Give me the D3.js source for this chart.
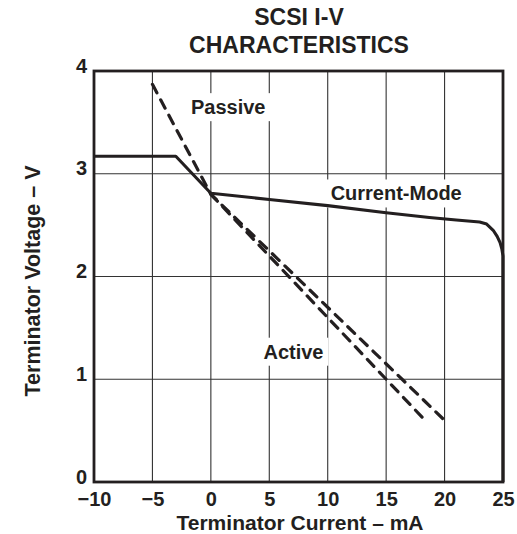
<!DOCTYPE html>
<html>
<head>
<meta charset="utf-8">
<script src="https://cdn.jsdelivr.net/npm/d3@7"></script>
<style>
  html, body { margin: 0; padding: 0; background: #fff; }
  svg { display: block; }
  text { font-family: "Liberation Sans", Arial, sans-serif; font-weight: bold; fill: #231f20; }
</style>
</head>
<body>
<svg id="chart" width="517" height="534"></svg>
<script>
// ---- data ----
const titleLines = ["SCSI I-V", "CHARACTERISTICS"];
const xTicks = [-10, -5, 0, 5, 10, 15, 20, 25];
const yTicks = [0, 1, 2, 3, 4];
const xLabel = "Terminator Current – mA";
const yLabel = "Terminator Voltage – V";

// Current-Mode terminator (solid)
const currentModeI = [-10, -3, 0, 5, 10, 15, 18.7, 21, 23, 23.6, 24.16, 24.5, 24.75, 24.9, 25, 25];
const currentModeV = [3.17, 3.17, 2.81, 2.75, 2.69, 2.62, 2.575, 2.55, 2.53, 2.51, 2.45, 2.39, 2.33, 2.27, 2.2, 0];
// Passive terminator (dashed)
const passiveI = [-5, 0, 20];
const passiveV = [3.87, 2.8, 0.6];
// Active terminator (dashed)
const activeI = [0, 18.5];
const activeV = [2.8, 0.58];

const seriesLabels = [
  { text: "Passive", i: -1.7, v: 3.58 },
  { text: "Current-Mode", i: 10.25, v: 2.74 },
  { text: "Active", i: 4.5, v: 1.2 }
];

// ---- layout ----
const svg = d3.select("#chart");
const margin = { left: 94, right: 14, top: 71, bottom: 52 };
const W = 517, H = 534;
const x = d3.scaleLinear().domain([-10, 25]).range([margin.left, W - margin.right]);
const y = d3.scaleLinear().domain([0, 4]).range([H - margin.bottom, margin.top]);

const ink = "#231f20";

// grid
const grid = svg.append("g");
grid.selectAll("line.v").data(xTicks.slice(1, -1)).join("line")
  .attr("x1", d => x(d)).attr("x2", d => x(d))
  .attr("y1", y(0)).attr("y2", y(4))
  .attr("stroke", "#333").attr("stroke-width", 1.1);
grid.selectAll("line.h").data(yTicks.slice(1, -1)).join("line")
  .attr("x1", x(-10)).attr("x2", x(25))
  .attr("y1", d => y(d)).attr("y2", d => y(d))
  .attr("stroke", "#333").attr("stroke-width", 1.1);

// label backgrounds + labels
const lblG = svg.append("g");
seriesLabels.forEach(l => {
  const t = lblG.append("text")
    .attr("x", x(l.i)).attr("y", y(l.v))
    .attr("font-size", 20)
    .text(l.text);
  const bb = t.node().getBBox();
  lblG.insert("rect", "text")
    .attr("x", bb.x - 5).attr("y", bb.y - 3)
    .attr("width", bb.width + 10).attr("height", bb.height + 6)
    .attr("fill", "#fff");
});

// frame
svg.append("rect")
  .attr("x", x(-10)).attr("y", y(4))
  .attr("width", x(25) - x(-10)).attr("height", y(0) - y(4))
  .attr("fill", "none").attr("stroke", ink).attr("stroke-width", 2.8);

// series
const line = d3.line().x(d => x(d[0])).y(d => y(d[1]));
const zip = (a, b) => a.map((v, k) => [v, b[k]]);

svg.append("path").datum(zip(passiveI, passiveV))
  .attr("d", line).attr("fill", "none").attr("stroke", ink)
  .attr("stroke-width", 3.2).attr("stroke-dasharray", "9.5,8").attr("stroke-linecap", "round");
svg.append("path").datum(zip(activeI, activeV))
  .attr("d", line).attr("fill", "none").attr("stroke", ink)
  .attr("stroke-width", 3.2).attr("stroke-dasharray", "9.5,8").attr("stroke-linecap", "round");
svg.append("path").datum(zip(currentModeI, currentModeV))
  .attr("d", line).attr("fill", "none").attr("stroke", ink)
  .attr("stroke-width", 3.1).attr("stroke-linejoin", "round");

// axes tick labels
const xAxis = d3.axisBottom(x).tickValues(xTicks).tickSize(0).tickPadding(0)
  .tickFormat(d => d < 0 ? "\u2212" + Math.abs(d) : String(d));
const gx = svg.append("g").attr("transform", `translate(0,${y(0)})`).call(xAxis);
gx.select(".domain").remove();
gx.selectAll("text").attr("font-size", 20).attr("dy", null).attr("y", 24)
  .style("font-family", "'Liberation Sans', Arial, sans-serif").style("font-weight", "bold").attr("fill", ink);

const yAxis = d3.axisLeft(y).tickValues(yTicks).tickSize(0).tickPadding(0).tickFormat(d3.format("d"));
const gy = svg.append("g").attr("transform", `translate(${x(-10)},0)`).call(yAxis);
gy.select(".domain").remove();
gy.selectAll("text").attr("font-size", 20).attr("x", -7).attr("dy", "0.05em")
  .style("font-family", "'Liberation Sans', Arial, sans-serif").style("font-weight", "bold").attr("fill", ink);

// titles
svg.append("text").attr("x", 299).attr("y", 25).attr("text-anchor", "middle")
  .attr("font-size", 23).text(titleLines[0]);
svg.append("text").attr("x", 299).attr("y", 53).attr("text-anchor", "middle")
  .attr("font-size", 23).text(titleLines[1]);

svg.append("text").attr("x", 300).attr("y", 530).attr("text-anchor", "middle")
  .attr("font-size", 21).text(xLabel);

svg.append("text").attr("transform", `translate(40,281) rotate(-90)`)
  .attr("text-anchor", "middle").attr("font-size", 21.5).text(yLabel);
</script>
</body>
</html>
